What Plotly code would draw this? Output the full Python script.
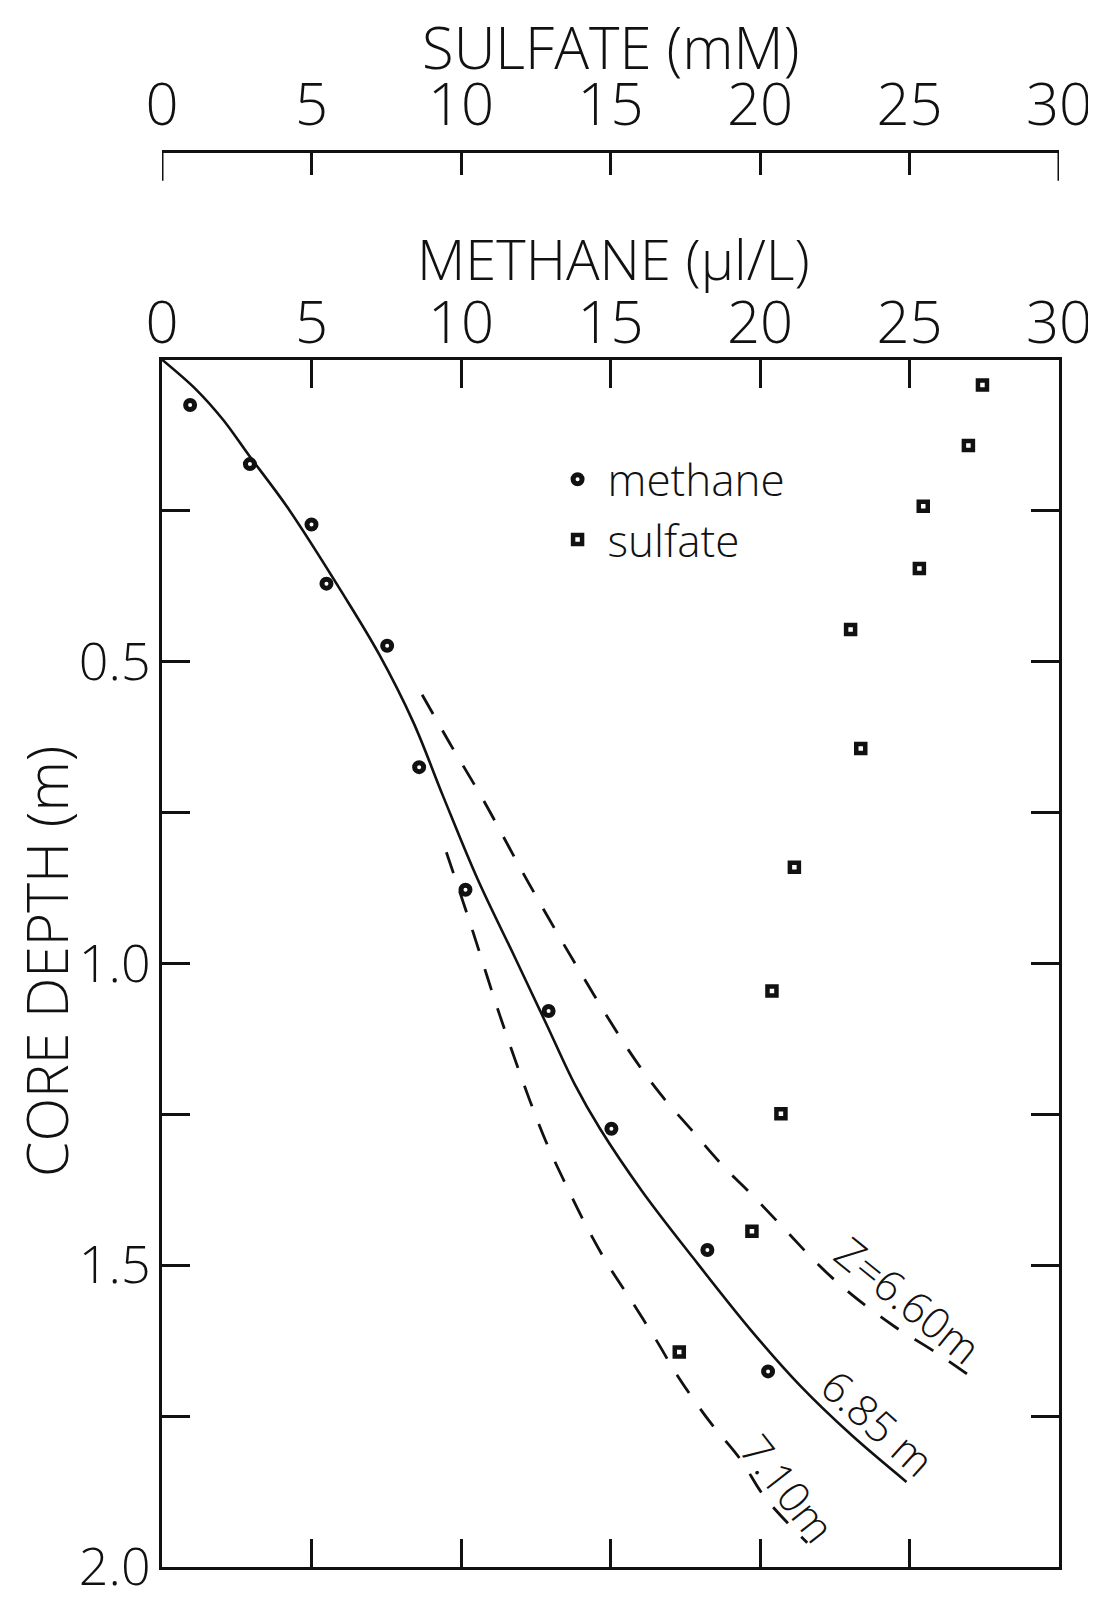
import plotly.graph_objects as go

# ---------------- data ----------------
methane_conc = [0.94, 2.94, 5.00, 5.50, 7.53, 8.60, 10.15, 12.93, 15.03, 18.24, 20.27]
methane_depth = [0.075, 0.173, 0.273, 0.371, 0.474, 0.675, 0.878, 1.079, 1.274, 1.475, 1.676]

sulfate_conc = [27.44, 26.97, 25.46, 25.33, 23.03, 23.37, 21.15, 20.40, 20.70, 19.73, 17.30]
sulfate_depth = [0.042, 0.142, 0.243, 0.346, 0.447, 0.644, 0.841, 1.046, 1.249, 1.444, 1.644]

# model curves for three values of Z
z685_conc = [0.0, 1.15, 2.05, 2.90, 4.20, 6.05, 7.25, 8.40, 9.40, 10.55, 11.80, 12.85,
             13.80, 14.65, 16.05, 17.75, 19.70, 21.35, 23.05, 24.90]
z685_depth = [0.0, 0.050, 0.100, 0.158, 0.245, 0.388, 0.487, 0.600, 0.723, 0.860, 0.990, 1.100,
              1.200, 1.274, 1.377, 1.487, 1.608, 1.700, 1.781, 1.859]

z660_conc = [8.70, 9.62, 10.73, 12.24, 13.91, 15.62, 16.66, 17.71, 18.77, 19.82, 20.93,
             22.05, 23.10, 24.51, 25.80, 27.21]
z660_depth = [0.555, 0.635, 0.728, 0.865, 1.008, 1.145, 1.216, 1.276, 1.336, 1.388, 1.446,
              1.504, 1.550, 1.602, 1.642, 1.690]

z710_conc = [9.51, 10.29, 11.29, 12.30, 12.90, 13.55, 14.19, 14.90, 15.66, 16.54, 17.24,
             18.30, 19.35, 20.17, 21.58]
z710_depth = [0.816, 0.931, 1.085, 1.227, 1.302, 1.371, 1.435, 1.498, 1.556, 1.625, 1.683,
              1.758, 1.822, 1.885, 1.960]

curve_labels = ["Z=6.60m", "6.85 m", "7.10m"]
label_conc = [24.95, 23.95, 20.95]
label_depth = [1.557, 1.760, 1.870]
label_angle = [39, 42, 52]

conc_ticks = [0, 5, 10, 15, 20, 25, 30]
conc_ticktext = ["0", "5", "10", "15", "20", "25", "30"]
depth_tickvals = [0, 0.25, 0.5, 0.75, 1.0, 1.25, 1.5, 1.75, 2.0]
depth_ticktext = ["", "", "0.5", "", "1.0", "", "1.5", "", "2.0"]

# ---------------- figure ----------------
FONT = "Open Sans, Liberation Sans, DejaVu Sans, sans-serif"
BLACK = "#111111"

# the page body keeps its default 8px margin, which shifts the figure; compensate for it
BODY = 8
W, H = 1096, 1604
# layout expressed in page pixels, converted to figure pixels below
BOX_L, BOX_R, BOX_T, BOX_B = 162, 1060, 361, 1576
SULF_LINE = 151
ML = BOX_L - BODY
MR = W - (BOX_R - BODY)
MT = SULF_LINE - BODY
MB = H - (BOX_B - BODY)
plot_h = H - MT - MB
plot_w = W - ML - MR


def py(page_y):
    """page pixel row -> paper fraction"""
    return (H - MB - (page_y - BODY)) / plot_h


def px(page_x):
    return ((page_x - BODY) - ML) / plot_w


fig = go.Figure()

fig.add_trace(go.Scatter(
    x=methane_conc, y=methane_depth, mode="markers", name="methane",
    marker=dict(symbol="circle-open", size=9, color=BLACK, line=dict(width=5, color=BLACK)),
    xaxis="x", yaxis="y"))
fig.add_trace(go.Scatter(
    x=sulfate_conc, y=sulfate_depth, mode="markers", name="sulfate",
    marker=dict(symbol="square-open", size=9, color=BLACK, line=dict(width=4.5, color=BLACK)),
    xaxis="x2", yaxis="y"))

fig.add_trace(go.Scatter(
    x=z685_conc, y=z685_depth, mode="lines", showlegend=False,
    line=dict(color=BLACK, width=2.6, shape="spline", smoothing=1.0), xaxis="x", yaxis="y"))
fig.add_trace(go.Scatter(
    x=z660_conc, y=z660_depth, mode="lines", showlegend=False,
    line=dict(color=BLACK, width=2.8, dash="22px,19px", shape="spline", smoothing=1.0),
    xaxis="x", yaxis="y"))
fig.add_trace(go.Scatter(
    x=z710_conc, y=z710_depth, mode="lines", showlegend=False,
    line=dict(color=BLACK, width=2.8, dash="22px,19px", shape="spline", smoothing=1.0),
    xaxis="x", yaxis="y"))

for txt, cx, cy, ang in zip(curve_labels, label_conc, label_depth, label_angle):
    fig.add_annotation(x=cx, y=cy, xref="x", yref="y", text=txt, showarrow=False,
                       textangle=ang, font=dict(family=FONT, size=43, color=BLACK, weight=300))

y_dom_top = py(BOX_T)

axis_common = dict(
    range=[conc_ticks[0], conc_ticks[-1]], tickvals=conc_ticks, ticktext=conc_ticktext,
    showgrid=False, zeroline=False, showline=True, linecolor=BLACK, linewidth=3,
    ticks="inside", tickcolor=BLACK, tickwidth=3, ticklabeloverflow="allow",
)

fig.update_layout(
    width=W, height=H,
    margin=dict(l=ML, r=MR, t=MT, b=MB, pad=0),
    paper_bgcolor="white", plot_bgcolor="white",
    showlegend=True,
    legend=dict(x=px(548), y=py(446), xanchor="left", yanchor="top",
                font=dict(family=FONT, size=44, color=BLACK, weight=300),
                bgcolor="rgba(0,0,0,0)", borderwidth=0, itemwidth=50),
    xaxis=dict(side="top", anchor="y", mirror="ticks", ticklen=28,
               ticklabelstandoff=-10,
               tickfont=dict(family=FONT, size=58, color=BLACK, weight=300),
               **axis_common),
    xaxis2=dict(side="top", anchor="free", position=1.0, overlaying="x", ticklen=22,
                ticklabelstandoff=2,
                tickfont=dict(family=FONT, size=58, color=BLACK, weight=300),
                **axis_common),
    yaxis=dict(domain=[0, y_dom_top], range=[depth_tickvals[-1], depth_tickvals[0]],
               tickvals=depth_tickvals, ticktext=depth_ticktext,
               showgrid=False, zeroline=False, showline=True, linecolor=BLACK, linewidth=3,
               mirror="ticks", ticks="inside", ticklen=28, tickcolor=BLACK, tickwidth=3,
               ticklabelstandoff=-2, ticklabeloverflow="allow",
               tickfont=dict(family=FONT, size=52, color=BLACK, weight=300)),
)

# longer end ticks on the sulfate scale
for v in (conc_ticks[0], conc_ticks[-1]):
    fig.add_shape(type="line", xref="x2", yref="paper", x0=v, x1=v,
                  y0=1.0, y1=1.0 - 30 / plot_h, line=dict(color=BLACK, width=3))

# axis titles
fig.add_annotation(text="SULFATE (mM)", xref="paper", yref="paper", x=0.5,
                   y=py(46), showarrow=False, yanchor="middle",
                   font=dict(family=FONT, size=58, color=BLACK, weight=300))
fig.add_annotation(text="METHANE (µl/L)", xref="paper", yref="paper", x=0.503,
                   y=py(259), showarrow=False, yanchor="middle",
                   font=dict(family=FONT, size=56, color=BLACK, weight=300))
fig.add_annotation(text="CORE DEPTH (m)", xref="paper", yref="paper",
                   x=px(46), y=py(967),
                   showarrow=False, textangle=-90, xanchor="center", yanchor="middle",
                   font=dict(family=FONT, size=57, color=BLACK, weight=300))

fig.write_html("out.html")
